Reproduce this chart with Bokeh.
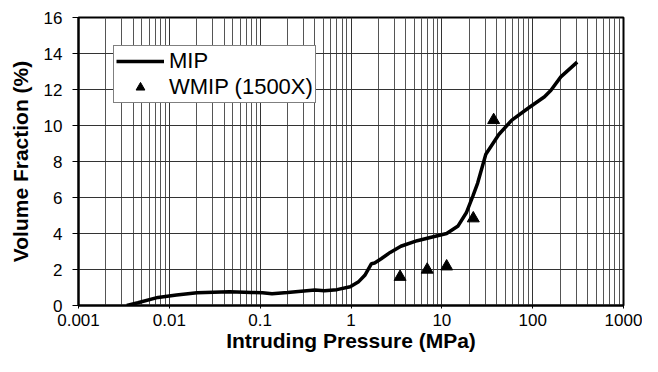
from bokeh.plotting import figure
from bokeh.models import FixedTicker, CustomJSTickFormatter, Legend, LegendItem
from bokeh.embed import file_html
from bokeh.resources import INLINE

# MIP curve (pressure in MPa, volume fraction in %)
mip_pressure = [0.0034, 0.0045, 0.0075, 0.012, 0.0202, 0.046, 0.08, 0.106, 0.135, 0.2,
                0.4, 0.51, 0.7, 0.98, 1.2, 1.42, 1.68, 1.82, 2.15, 2.7, 3.54, 5.36,
                7.46, 11.3, 15.1, 18.6, 21.9, 24.8, 30.5, 42.4, 59, 89, 135, 159, 204, 309]
mip_volume = [0.0, 0.15, 0.45, 0.58, 0.71, 0.77, 0.72, 0.71, 0.65, 0.72,
              0.86, 0.82, 0.88, 1.04, 1.3, 1.68, 2.32, 2.36, 2.6, 2.95, 3.29, 3.6,
              3.78, 4.0, 4.42, 5.15, 6.06, 6.8, 8.4, 9.5, 10.3, 10.96, 11.6, 11.96, 12.7, 13.52]

# WMIP (1500X) points
wmip_pressure = [3.47, 6.9, 11.3, 22.2, 37.2]
wmip_volume = [1.59, 1.99, 2.17, 4.84, 10.3]

x_ticks = [0.001, 0.01, 0.1, 1, 10, 100, 1000]
x_tick_labels = ["0.001", "0.01", "0.1", "1", "10", "100", "1000"]
x_minor_ticks = [k * 10.0 ** e for e in range(-3, 3) for k in range(2, 10)]
y_ticks = [0, 2, 4, 6, 8, 10, 12, 14, 16]

FONT = "Liberation Sans"

p = figure(width=642, height=356, x_axis_type="log", x_range=(0.001, 1000), y_range=(0, 16),
           output_backend="svg", toolbar_location=None,
           min_border_left=78, min_border_right=19, min_border_top=17, min_border_bottom=51)
p.background_fill_color = "white"
p.border_fill_color = "white"
p.outline_line_color = "black"
p.outline_line_width = 2

p.xaxis.ticker = FixedTicker(ticks=x_ticks, minor_ticks=x_minor_ticks)
p.xaxis.formatter = CustomJSTickFormatter(args=dict(vals=x_ticks, labs=x_tick_labels), code="""
let best = 0; let bd = Infinity;
for (let i = 0; i < vals.length; i++) {
  const d = Math.abs(Math.log10(vals[i]) - Math.log10(tick));
  if (d < bd) { bd = d; best = i; }
}
return labs[best];
""")
p.yaxis.ticker = FixedTicker(ticks=y_ticks)

for ax in (p.xaxis, p.yaxis):
    ax.axis_line_color = "black"
    ax.axis_line_width = 2
    ax.major_tick_line_color = "black"
    ax.major_tick_in = 0
    ax.minor_tick_in = 0
    ax.minor_tick_out = 0
    ax.major_label_text_font = FONT
    ax.major_label_text_font_size = "17px"
    ax.major_label_text_color = "black"
    ax.axis_label_text_font = FONT
    ax.axis_label_text_font_size = "21px"
    ax.axis_label_text_font_style = "bold"
    ax.axis_label_text_color = "black"

p.xaxis.major_tick_out = 3
p.xaxis.major_label_standoff = 5
p.xaxis.axis_label = "Intruding Pressure (MPa)"
p.xaxis.axis_label_standoff = 0
p.yaxis.major_tick_out = 6
p.yaxis.major_label_standoff = 10
p.yaxis.axis_label = "Volume Fraction (%)"
p.yaxis.axis_label_standoff = 9

p.xgrid.grid_line_color = "#333333"
p.xgrid.grid_line_width = 1
p.xgrid.minor_grid_line_color = "#555555"
p.xgrid.minor_grid_line_width = 1
p.ygrid.grid_line_color = "#333333"
p.ygrid.grid_line_width = 1

line = p.line(mip_pressure, mip_volume, line_color="black", line_width=3.5)
pts = p.scatter(wmip_pressure, wmip_volume, marker="triangle", size=12,
                fill_color="black", line_color="black")

legend = Legend(items=[LegendItem(label="MIP", renderers=[line]),
                       LegendItem(label="WMIP (1500X)", renderers=[pts])],
                location=(35, 202))
legend.label_text_font = FONT
legend.label_text_font_size = "22px"
legend.label_text_color = "black"
legend.glyph_width = 48
legend.glyph_height = 22
legend.label_height = 22
legend.label_standoff = 5
legend.padding = 2
legend.spacing = 0
legend.margin = 0
legend.border_line_color = "black"
legend.border_line_width = 1.5
legend.background_fill_color = "white"
legend.background_fill_alpha = 1
p.add_layout(legend, "center")

open("out.html", "w").write(file_html(p, INLINE))
